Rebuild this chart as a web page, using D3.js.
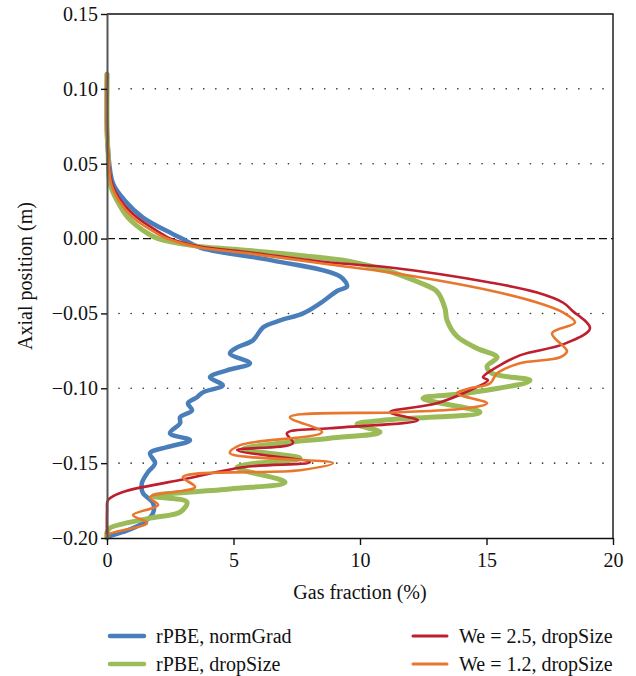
<!DOCTYPE html>
<html>
<head>
<meta charset="utf-8">
<script src="https://cdn.jsdelivr.net/npm/d3@7"></script>
<style>
  body { margin: 0; background: #fff; }
  text { font-family: "Liberation Serif", "DejaVu Serif", serif; fill: #111; }
</style>
</head>
<body>
<svg id="chart"></svg>
<script>
// gas fraction (%) vs axial position (m)
const normGrad = [
  [0, 0.11], [0, 0.072], [0.04, 0.0587], [0.24, 0.0367], [0.71, 0.0253], [1.42, 0.014],
  [2.57, 0.0033], [2.96, 0], [3.68, -0.006], [6.56, -0.0147], [9.21, -0.0253], [9.49, -0.032],
  [9.13, -0.0347], [8.42, -0.0433], [7.75, -0.05], [6.84, -0.0547], [6.17, -0.0593], [5.77, -0.068],
  [5.14, -0.0727], [4.86, -0.0767], [5.65, -0.0833], [4.74, -0.088], [4.07, -0.0927], [4.58, -0.098],
  [3.79, -0.1027], [3.56, -0.106], [3.2, -0.11], [3.36, -0.1147], [2.89, -0.1193], [2.89, -0.1233],
  [2.49, -0.13], [3.28, -0.1347], [2.37, -0.1393], [1.7, -0.1433], [1.9, -0.15], [1.62, -0.156],
  [1.38, -0.1633], [1.42, -0.17], [1.82, -0.1767], [1.82, -0.1833], [1.42, -0.19], [0.63, -0.196],
  [0, -0.1993]
];

const rpbeDrop = [
  [0, 0.11], [0, 0.072], [0.04, 0.0587], [0.12, 0.0367], [0.4, 0.0253], [0.83, 0.014],
  [1.62, 0.0033], [2.02, 0], [3.4, -0.0047], [5.14, -0.0073], [7.63, -0.0113], [9.6, -0.0153],
  [11.19, -0.022], [12.25, -0.0287], [13.04, -0.0353], [13.36, -0.0467], [13.44, -0.0547],
  [13.83, -0.0653], [14.62, -0.0733], [15.42, -0.0793], [15.02, -0.0853], [15.22, -0.09],
  [16.72, -0.0947], [14.23, -0.1033], [12.49, -0.1067], [14.74, -0.116], [10.91, -0.1213],
  [9.88, -0.124], [10.79, -0.1293], [8.81, -0.1333], [6.84, -0.1367], [5.38, -0.1407],
  [7.63, -0.1467], [5.14, -0.1527], [7.04, -0.1627], [4.86, -0.1673], [1.82, -0.172],
  [3.16, -0.176], [2.89, -0.1827], [1.7, -0.1867], [0.12, -0.1933], [0, -0.196], [0, -0.2]
];

const we25 = [
  [0, 0.11], [0, 0.072], [0.04, 0.0587], [0.2, 0.0367], [0.55, 0.0253], [1.19, 0.014],
  [2.09, 0.004], [2.49, 0], [3.68, -0.0053], [5.65, -0.0093], [8.81, -0.016], [11.19, -0.0193],
  [15.14, -0.0293], [17.0, -0.036], [18.02, -0.0427], [18.38, -0.048], [19.09, -0.06],
  [18.02, -0.0707], [16.32, -0.078], [15.02, -0.09], [14.86, -0.0927], [15.06, -0.0947],
  [14.35, -0.1013], [13.04, -0.11], [11.19, -0.116], [12.29, -0.1213], [8.81, -0.1267],
  [7.11, -0.13], [7.35, -0.1367], [5.14, -0.1413], [8.02, -0.1493], [5.38, -0.1527],
  [2.89, -0.1613], [0.63, -0.1693], [0.04, -0.1747], [0, -0.1813], [0, -0.2]
];

const we12 = [
  [0, 0.11], [0, 0.072], [0.04, 0.0587], [0.16, 0.0367], [0.47, 0.0253], [1.03, 0.014],
  [1.98, 0.0033], [2.37, 0], [3.68, -0.006], [5.65, -0.01], [8.81, -0.0173], [11.19, -0.0227],
  [15.14, -0.0347], [17.0, -0.0427], [18.02, -0.0493], [18.5, -0.056], [17.59, -0.0633],
  [18.18, -0.0753], [17.91, -0.0793], [16.32, -0.0833], [15.42, -0.09], [15.14, -0.0967],
  [14.35, -0.1], [13.83, -0.1033], [15.02, -0.11], [14.23, -0.1133], [11.58, -0.116],
  [7.23, -0.1193], [8.5, -0.1293], [5.26, -0.138], [4.86, -0.1433], [8.93, -0.15],
  [7.63, -0.1547], [3.0, -0.1593], [3.48, -0.166], [1.7, -0.1727], [2.02, -0.178],
  [1.03, -0.1847], [1.58, -0.19], [0, -0.198], [0, -0.2]
];

const seriesNames = ["rPBE, normGrad", "rPBE, dropSize", "We = 2.5, dropSize", "We = 1.2, dropSize"];
const seriesColors = ["#4a7ebb", "#9bbb59", "#be1e2d", "#e8762c"];
const seriesWidths = [4.5, 5, 2.6, 2.6];
const xTicks = [0, 5, 10, 15, 20];
const yTicks = [-0.2, -0.15, -0.1, -0.05, 0, 0.05, 0.1, 0.15];
const gridTicks = [-0.15, -0.1, -0.05, 0.05, 0.1];

const width = 636, height = 676;
const margin = {top: 14, right: 23, bottom: 138, left: 107};
const fontSize = 20;

const svg = d3.select("#chart")
    .attr("width", width)
    .attr("height", height);

const x = d3.scaleLinear().domain([0, 20]).range([margin.left, width - margin.right]);
const y = d3.scaleLinear().domain([-0.2, 0.15]).range([height - margin.bottom, margin.top]);

// dotted grid
svg.append("g")
  .selectAll("line")
  .data(gridTicks)
  .join("line")
    .attr("x1", x(0) + 12).attr("x2", x(20))
    .attr("y1", d => y(d)).attr("y2", d => y(d))
    .attr("stroke", "#333")
    .attr("stroke-width", 1.6)
    .attr("stroke-linecap", "round")
    .attr("stroke-dasharray", "0.1,12");

// zero line
svg.append("line")
    .attr("x1", x(0)).attr("x2", x(20))
    .attr("y1", y(0)).attr("y2", y(0))
    .attr("stroke", "#111")
    .attr("stroke-width", 1.3)
    .attr("stroke-dasharray", "8,4");

// frame top / right
svg.append("path")
    .attr("d", `M${x(0)},${y(0.15)}H${x(20)}V${y(-0.2)}`)
    .attr("fill", "none")
    .attr("stroke", "#111")
    .attr("stroke-width", 1.4);

const line = d3.line()
    .x(d => x(d[0]))
    .y(d => y(d[1]))
    .curve(d3.curveCatmullRom.alpha(0.5));

const allSeries = [normGrad, rpbeDrop, we25, we12];

svg.append("g")
  .selectAll("path")
  .data(allSeries)
  .join("path")
    .attr("d", line)
    .attr("fill", "none")
    .attr("stroke", (d, i) => seriesColors[i])
    .attr("stroke-width", (d, i) => seriesWidths[i])
    .attr("stroke-linejoin", "round")
    .attr("stroke-linecap", "round");

// axes
const fmtY = d => d3.format(".2f")(d).replace("-", "\u2212");

const xAxis = svg.append("g")
    .attr("transform", `translate(0,${y(-0.2)})`)
    .call(d3.axisBottom(x).tickValues(xTicks).tickFormat(d3.format("d")).tickSize(7).tickSizeOuter(0));

const yAxis = svg.append("g")
    .attr("transform", `translate(${x(0)},0)`)
    .call(d3.axisLeft(y).tickValues(yTicks).tickFormat(fmtY).tickSize(6).tickSizeOuter(0));

xAxis.select(".domain").attr("stroke", "#111").attr("stroke-width", 1.6);
yAxis.select(".domain").attr("stroke", "#555").attr("stroke-width", 2);
xAxis.selectAll(".tick line").attr("stroke", "#111").attr("stroke-width", 1.4);
yAxis.selectAll(".tick line").attr("stroke", "#111").attr("stroke-width", 1.4);
xAxis.selectAll(".tick text").attr("font-size", fontSize).attr("dy", "0.95em");
yAxis.selectAll(".tick text").attr("font-size", fontSize).attr("x", -9);
svg.selectAll(".tick text").style("font-family", "'Liberation Serif', serif").attr("fill", "#111");

// axis titles
svg.append("text")
    .attr("x", (x(0) + x(20)) / 2)
    .attr("y", 599)
    .attr("text-anchor", "middle")
    .attr("font-size", fontSize)
    .text("Gas fraction (%)");

svg.append("text")
    .attr("transform", `translate(32,${(y(0.15) + y(-0.2)) / 2}) rotate(-90)`)
    .attr("text-anchor", "middle")
    .attr("font-size", fontSize)
    .text("Axial position (m)");

// legend
const legendPos = [[110, 636], [110, 664], [413, 636], [413, 664]];
const legend = svg.append("g")
  .selectAll("g")
  .data(seriesNames)
  .join("g")
    .attr("transform", (d, i) => `translate(${legendPos[i][0]},${legendPos[i][1]})`);

legend.append("line")
    .attr("x1", 0).attr("x2", 34)
    .attr("stroke", (d, i) => seriesColors[i])
    .attr("stroke-width", (d, i) => i < 2 ? 4.5 : 3)
    .attr("stroke-linecap", "round");

legend.append("text")
    .attr("x", 46)
    .attr("dy", "0.33em")
    .attr("font-size", fontSize)
    .text(d => d);
</script>
</body>
</html>
